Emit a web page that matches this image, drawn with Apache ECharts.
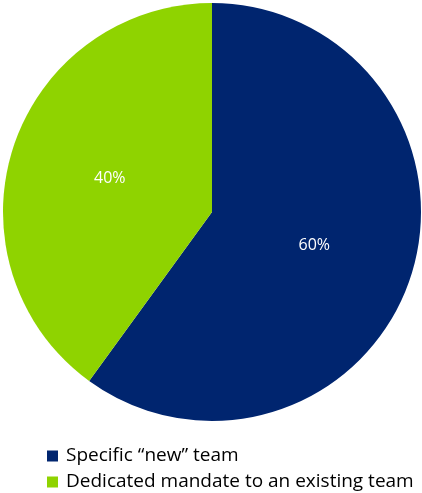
<!DOCTYPE html>
<html>
<head>
<meta charset="utf-8">
<script src="https://cdn.jsdelivr.net/npm/echarts@6/dist/echarts.min.js"></script>
<style>
  html, body { margin: 0; padding: 0; background: #fff; }
  #chart { width: 422px; height: 493px; }
</style>
</head>
<body>
<div id="chart"></div>
<script>
// Team setup shares
const categories = ['Specific \u201cnew\u201d team', 'Dedicated mandate to an existing team'];
const shares = [60, 40];
const colors = ['#00256F', '#8FD300'];

const chart = echarts.init(document.getElementById('chart'), null, { renderer: 'canvas' });

chart.setOption({
  animation: false,
  color: colors,
  legend: {
    orient: 'vertical',
    left: 47,
    top: 446,
    height: 47,
    padding: 0,
    itemWidth: 11,
    itemHeight: 11,
    itemGap: 6,
    icon: 'rect',
    textStyle: { fontFamily: 'Open Sans', fontSize: 19, lineHeight: 20, color: '#000', padding: [0, 0, 0, 3] },
    data: categories
  },
  series: [{
    type: 'pie',
    center: [212, 212],
    radius: [0, 209],
    startAngle: 90,
    clockwise: true,
    silent: true,
    label: {
      position: 'inside',
      formatter: '{c}%',
      color: '#fff',
      fontFamily: 'Open Sans',
      fontSize: 16,
      padding: [8, 0, 0, 0]
    },
    labelLine: { show: false },
    itemStyle: { borderWidth: 0 },
    data: categories.map((name, i) => ({ name, value: shares[i] }))
  }]
});
</script>
</body>
</html>
